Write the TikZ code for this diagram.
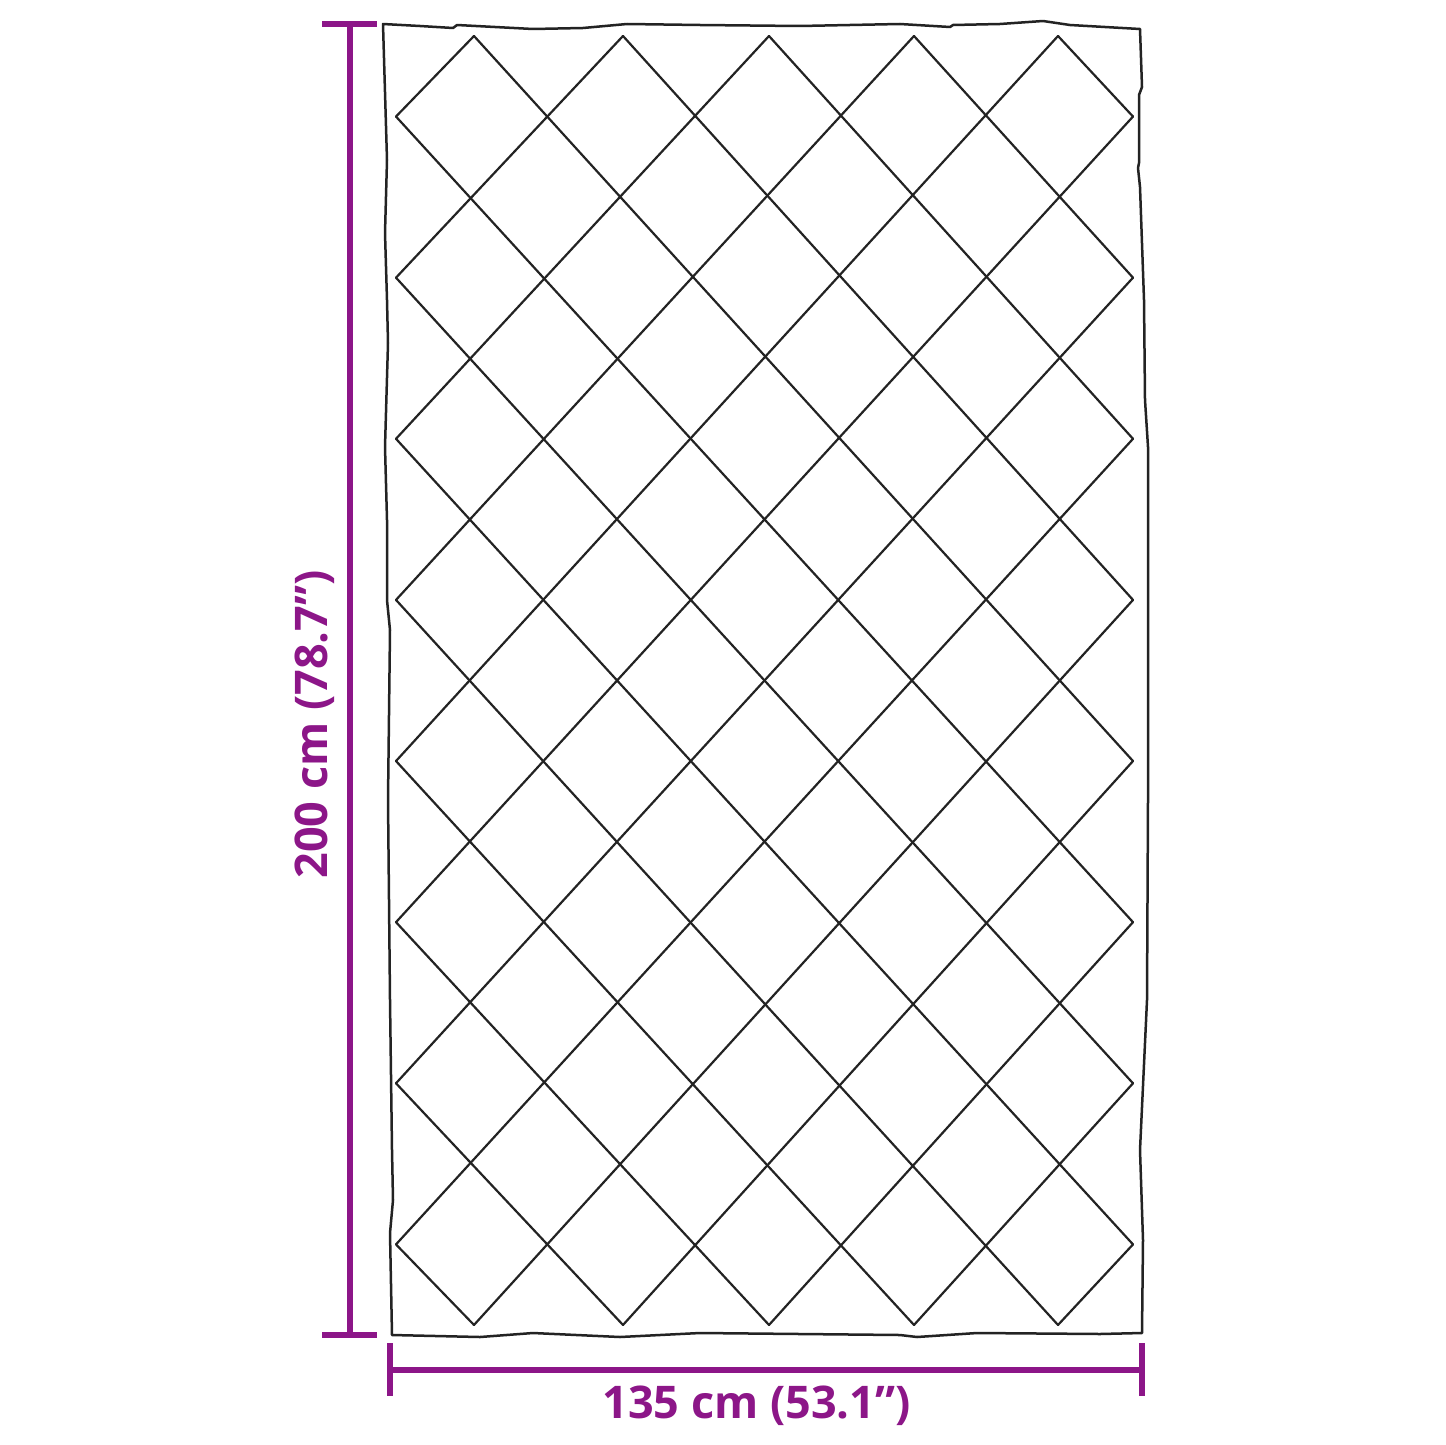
\documentclass[tikz,border=0pt]{standalone}
\usepackage{fontspec}
\setmainfont{Open Sans}
\definecolor{dimpurple}{RGB}{140,22,136}
\definecolor{rugline}{RGB}{35,35,35}
\tikzset{
  lattice/.style={draw=rugline, line width=2.2pt, line cap=round, line join=miter},
  rugedge/.style={draw=rugline, line width=2.5pt, line join=round},
  dimline/.style={draw=dimpurple, line width=6pt},
  dimtick/.style={draw=dimpurple, line width=6pt},
  dimlabel/.style={text=dimpurple, font=\fontsize{45}{54}\selectfont\bfseries, inner sep=0pt}
}
\begin{document}
\begin{tikzpicture}[x=1pt,y=-1pt]
\useasboundingbox (0,0) rectangle (1445,1445);
% lattice points
\foreach \xx [count=\ii from 0] in {396,474,549,623,697,769,842,914,988,1058,1133} {
  \foreach \j in {0,...,16} {
    \coordinate (p\ii-\j) at (\xx,{36+80.56*\j});
  }
}
% rug outline
\draw[rugedge] (383,24) -- (420,26) -- (453,28) -- (457,25) -- (533,29) -- (583,28) -- (627,24) -- (700,25) -- (800,26) -- (900,24) -- (950,27) -- (953,25) -- (1000,24) -- (1043,21) -- (1070,25) -- (1140,29)
  -- (1142,87) -- (1139,95) -- (1139,163) -- (1138,168) -- (1140,187) -- (1144,300) -- (1145,400) -- (1148,447) -- (1148,800) -- (1147,1000) -- (1140,1150) -- (1143,1240) -- (1142,1333)
  -- (1100,1334) -- (977,1333) -- (917,1337) -- (900,1335) -- (800,1334) -- (700,1333) -- (620,1337) -- (533,1333) -- (480,1337) -- (392,1335)
  -- (390,1233) -- (393,1200) -- (392,1150) -- (390,1000) -- (388,800) -- (390,630) -- (387,600) -- (387,520) -- (385,447) -- (388,343) -- (387,300) -- (385,233) -- (387,160) -- cycle;
% down-right lines
\foreach \c in {-15,-13,...,9} {
  \pgfmathtruncatemacro\si{max(\c,0)}
  \pgfmathtruncatemacro\sj{\si-(\c)}
  \pgfmathtruncatemacro\ei{min(10,\c+16)}
  \pgfmathtruncatemacro\ej{\ei-(\c)}
  \draw[lattice] (p\si-\sj) -- (p\ei-\ej);
}
% up-right lines
\foreach \c in {1,3,...,25} {
  \pgfmathtruncatemacro\si{max(0,\c-16)}
  \pgfmathtruncatemacro\sj{\c-\si}
  \pgfmathtruncatemacro\ei{min(10,\c)}
  \pgfmathtruncatemacro\ej{\c-\ei}
  \draw[lattice] (p\si-\sj) -- (p\ei-\ej);
}
% vertical dimension
\coordinate (vt) at (350,24);
\coordinate (vb) at (350,1335);
\coordinate (vtl) at (322,24);
\coordinate (vtr) at (377,24);
\coordinate (vbl) at (322,1335);
\coordinate (vbr) at (377,1335);
\draw[dimline] (vt) -- (vb);
\draw[dimtick] (vtl) -- (vtr);
\draw[dimtick] (vbl) -- (vbr);
\node[dimlabel, rotate=90, anchor=base] (hlabel) at (327,724.5) {200 cm (78.7”)};
% horizontal dimension
\coordinate (hl) at (390,1370);
\coordinate (hr) at (1142,1370);
\coordinate (hlt) at (390,1343);
\coordinate (hlb) at (390,1396);
\coordinate (hrt) at (1142,1343);
\coordinate (hrb) at (1142,1396);
\draw[dimline] (hl) -- (hr);
\draw[dimtick] (hlt) -- (hlb);
\draw[dimtick] (hrt) -- (hrb);
\node[dimlabel, anchor=base] (wlabel) at (756.5,1418) {135 cm (53.1”)};
\end{tikzpicture}
\end{document}
